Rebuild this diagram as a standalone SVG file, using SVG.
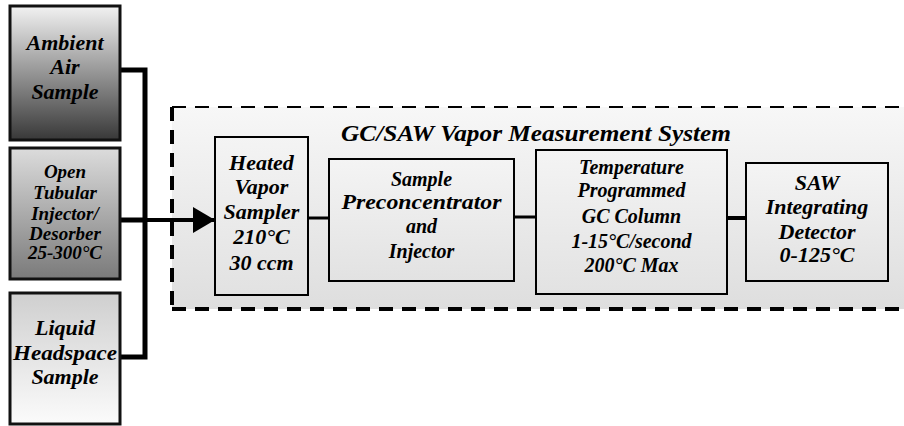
<svg xmlns="http://www.w3.org/2000/svg" width="904" height="426" viewBox="0 0 904 426">
<defs>
<linearGradient id="g1" x1="0" y1="0" x2="0" y2="1"><stop offset="0" stop-color="#f2f2f2"/><stop offset="1" stop-color="#383838"/></linearGradient>
<linearGradient id="g2" x1="0" y1="0" x2="0" y2="1"><stop offset="0" stop-color="#dcdcdc"/><stop offset="1" stop-color="#7a7a7a"/></linearGradient>
<linearGradient id="g3" x1="0" y1="0" x2="0" y2="1"><stop offset="0" stop-color="#cfcfcf"/><stop offset="1" stop-color="#fbfbfb"/></linearGradient>
<linearGradient id="gsys" x1="0" y1="0" x2="0" y2="1"><stop offset="0" stop-color="#f7f7f7"/><stop offset="1" stop-color="#dedede"/></linearGradient>
<linearGradient id="gbox" x1="0" y1="0" x2="0" y2="1"><stop offset="0" stop-color="#f4f4f4"/><stop offset="1" stop-color="#e2e2e2"/></linearGradient>
<marker id="arr" markerUnits="userSpaceOnUse" markerWidth="24" markerHeight="26" refX="22" refY="13" orient="auto"><path d="M0,0 L22,13 L0,26 Z" fill="#000"/></marker>
</defs>
<style>
.t{font-family:"Liberation Serif","Times New Roman",serif;font-weight:bold;font-style:italic;fill:#000;text-anchor:middle;font-size:22px}
.s{font-size:19px}
.m{font-size:20px}
.ti{font-size:23px}
.src{stroke:#111;stroke-width:3}
.box{fill:url(#gbox);stroke:#000;stroke-width:2}
.c{stroke:#000;fill:none}
</style>
<g id="system">
<rect x="172" y="107" width="740" height="202" fill="url(#gsys)"/>
<line x1="172" y1="107" x2="904" y2="107" stroke="#000" stroke-width="2" stroke-dasharray="14 9"/>
<line x1="172" y1="309" x2="904" y2="309" stroke="#000" stroke-width="4" stroke-dasharray="14 9"/>
<line x1="172" y1="107" x2="172" y2="309" stroke="#000" stroke-width="4" stroke-dasharray="14 9"/>
<text class="t ti" x="536" y="141" textLength="390" lengthAdjust="spacingAndGlyphs">GC/SAW Vapor Measurement System</text>
</g>
<g id="connectors">
<path class="c" d="M121,70 H145 V357 H121" stroke-width="5"/>
<path class="c" d="M121,220 H145" stroke-width="5"/>
<line x1="145" y1="220" x2="215" y2="220" stroke="#000" stroke-width="4" marker-end="url(#arr)"/>
<line x1="308" y1="218" x2="329" y2="218" stroke="#000" stroke-width="3"/>
<line x1="514" y1="217" x2="536" y2="217" stroke="#000" stroke-width="3"/>
<line x1="727" y1="218" x2="746" y2="218" stroke="#000" stroke-width="4"/>
</g>
<g id="ambient">
<rect class="src" x="10" y="6" width="110" height="134" fill="url(#g1)"/>
<text class="t" x="65" y="50">Ambient</text>
<text class="t" x="65" y="74">Air</text>
<text class="t" x="65" y="99">Sample</text>
</g>
<g id="tubular">
<rect class="src" x="10" y="148" width="110" height="131" fill="url(#g2)"/>
<text class="t s" x="65" y="178">Open</text>
<text class="t s" x="65" y="199">Tubular</text>
<text class="t s" x="65" y="220">Injector/</text>
<text class="t s" x="65" y="240">Desorber</text>
<text class="t s" x="65" y="259">25-300°C</text>
</g>
<g id="liquid">
<rect class="src" x="10" y="293" width="110" height="131" fill="url(#g3)"/>
<text class="t" x="65" y="335">Liquid</text>
<text class="t" x="65" y="360" textLength="104" lengthAdjust="spacingAndGlyphs">Headspace</text>
<text class="t" x="65" y="384">Sample</text>
</g>
<g id="heated">
<rect class="box" x="215" y="137" width="93" height="158"/>
<text class="t" x="261.5" y="170">Heated</text>
<text class="t" x="261.5" y="194">Vapor</text>
<text class="t" x="261.5" y="219">Sampler</text>
<text class="t" x="261.5" y="244">210°C</text>
<text class="t" x="261.5" y="270">30 ccm</text>
</g>
<g id="preconcentrator">
<rect class="box" x="329" y="159" width="185" height="122"/>
<text class="t m" x="421.5" y="186">Sample</text>
<text class="t m" x="421.5" y="209" textLength="160" lengthAdjust="spacingAndGlyphs">Preconcentrator</text>
<text class="t m" x="421.5" y="233">and</text>
<text class="t m" x="421.5" y="258">Injector</text>
</g>
<g id="gc">
<rect class="box" x="536" y="150" width="191" height="144"/>
<text class="t m" x="631.5" y="174">Temperature</text>
<text class="t m" x="631.5" y="197">Programmed</text>
<text class="t m" x="631.5" y="223">GC Column</text>
<text class="t m" x="631.5" y="248">1-15°C/second</text>
<text class="t m" x="631.5" y="272">200°C Max</text>
</g>
<g id="saw">
<rect class="box" x="746" y="163" width="142" height="118"/>
<text class="t" x="817" y="190">SAW</text>
<text class="t" x="817" y="214">Integrating</text>
<text class="t" x="817" y="239">Detector</text>
<text class="t" x="817" y="262">0-125°C</text>
</g>
</svg>
